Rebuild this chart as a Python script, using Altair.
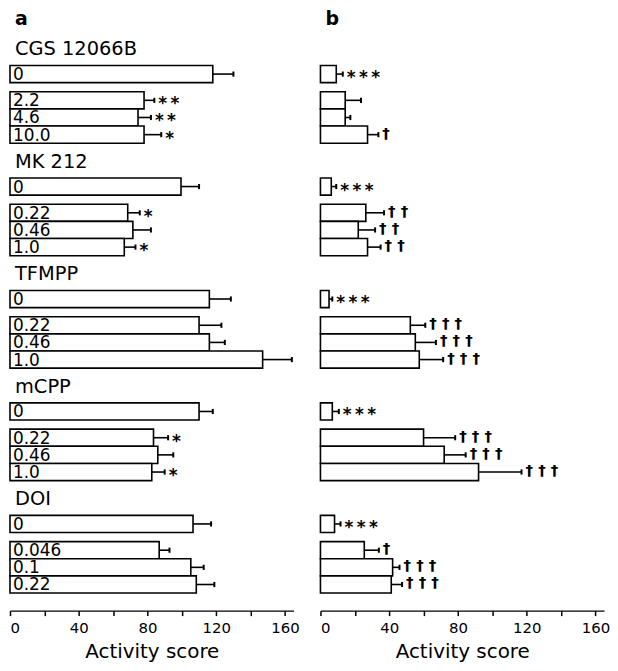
import altair as alt
import pandas as pd

# ---------------- data ----------------
groups = ["CGS 12066B", "MK 212", "TFMPP", "mCPP", "DOI"]
doses = [["0", "2.2", "4.6", "10.0"],
         ["0", "0.22", "0.46", "1.0"],
         ["0", "0.22", "0.46", "1.0"],
         ["0", "0.22", "0.46", "1.0"],
         ["0", "0.046", "0.1", "0.22"]]

a_mean = [[118, 78, 74.5, 78],
          [99.5, 68.5, 71.5, 66.5],
          [116, 110, 116, 147],
          [110, 83.5, 86, 82.5],
          [106.5, 86.8, 105.2, 108.4]]
a_sem = [[12, 6, 7.5, 10],
         [10.5, 7, 10.5, 6.5],
         [12.5, 13, 9, 17],
         [8, 8.5, 9, 7.5],
         [10.5, 6, 7.5, 10.5]]
a_sig = [["", "**", "**", "*"],
         ["", "*", "", "*"],
         ["", "", "", ""],
         ["", "*", "", "*"],
         ["", "", "", ""]]

b_mean = [[9.2, 14.4, 14.4, 27.4],
          [6.3, 26.4, 22, 27.4],
          [5, 52.3, 55.2, 57.5],
          [6.9, 60, 72, 92],
          [8.2, 25.5, 42, 41.2]]
b_sem = [[3.8, 9.2, 3, 6.3],
         [2.9, 10.6, 9.8, 7.6],
         [1.9, 8.7, 12, 13.9],
         [3.8, 18.4, 12.5, 25],
         [3.5, 8.5, 4, 6.3]]
b_sig = [["***", "", "", "†"],
         ["***", "††", "††", "††"],
         ["***", "†††", "†††", "†††"],
         ["***", "†††", "†††", "†††"],
         ["***", "†", "†††", "†††"]]

panel_labels = ["a", "b"]
x_ticks = [0, 20, 40, 60, 80, 100, 120, 140, 160]
x_title = "Activity score"

# ---------------- layout constants ----------------
N_ROWS = 35.03          # height of the plot in bar-row units
PLOT_H = 604
PLOT_W = 285
X_MAX = 165
FIRST = 3.757
PERIOD = 6.555
TITLE_OFF = -1.5
DOSE_OFF = 1.53
FONT = "DejaVu Sans"
THIN = "\u2009"


def slot(gi, k):
    base = FIRST + gi * PERIOD
    return base if k == 0 else base + DOSE_OFF + (k - 1)


def build(mean, sem, sig):
    rows = []
    for gi, g in enumerate(groups):
        for k in range(4):
            c = slot(gi, k)
            s = sig[gi][k]
            rows.append(dict(group=g, dose=doses[gi][k], mean=mean[gi][k],
                             hi=mean[gi][k] + sem[gi][k], zero=0,
                             c=c, top=c - 0.5, bot=c + 0.5,
                             ctop=c - 0.15, cbot=c + 0.15,
                             stars=THIN.join(s) if "*" in s else "",
                             daggers=" ".join(s) if "†" in s else ""))
    return pd.DataFrame(rows)


xscale = alt.Scale(domain=[0, X_MAX], nice=False, zero=True)
xaxis = alt.Axis(values=x_ticks, labelExpr="datum.value % 40 === 0 ? datum.label : ''",
                 title=x_title, grid=False, tickSize=5, labelFlush=True,
                 labelPadding=5, titlePadding=6)
yscale = alt.Scale(domain=[0, N_ROWS], reverse=True, nice=False, zero=False)


def X(f):
    return alt.X(f, type="quantitative", scale=xscale, axis=xaxis)


def Y(f):
    return alt.Y(f, type="quantitative", scale=yscale, axis=None)


def panel(df, label, with_text):
    base = alt.Chart(df)
    bars = base.mark_rect(fill="white", stroke="black", strokeWidth=1.6).encode(
        x=X("zero"), x2="mean", y=Y("top"), y2="bot")
    err = base.mark_rule(color="black", strokeWidth=1.6).encode(
        x=X("mean"), x2="hi", y=Y("c"))
    cap = base.mark_rule(color="black", strokeWidth=2).encode(
        x=X("hi"), y=Y("ctop"), y2="cbot")
    stars = base.mark_text(align="left", baseline="alphabetic", dx=4, dy=9,
                           font=FONT, fontSize=17, fontWeight="bold", color="black").encode(
        x=X("hi"), y=Y("c"), text="stars")
    daggers = base.mark_text(align="left", baseline="alphabetic", dx=4, dy=3,
                             font=FONT, fontSize=15, fontWeight="bold", color="black").encode(
        x=X("hi"), y=Y("c"), text="daggers")
    lab_df = pd.DataFrame({"t": [label], "zero": [0], "c": [0.55]})
    lab = alt.Chart(lab_df).mark_text(align="left", baseline="middle", dx=5,
                                      font=FONT, fontSize=19, fontWeight="bold",
                                      color="black").encode(x=X("zero"), y=Y("c"), text="t")
    layers = [bars, err, cap, stars, daggers, lab]
    if with_text:
        dl = base.mark_text(align="left", baseline="middle", dx=3, dy=1,
                            font=FONT, fontSize=17, color="black").encode(
            x=X("zero"), y=Y("c"), text="dose")
        t_df = pd.DataFrame({"g": groups, "zero": 0,
                             "c": [slot(i, 0) + TITLE_OFF for i in range(len(groups))]})
        tt = alt.Chart(t_df).mark_text(align="left", baseline="middle", dx=5, dy=1,
                                       font=FONT, fontSize=19.5, color="black").encode(
            x=X("zero"), y=Y("c"), text="g")
        layers += [dl, tt]
    return alt.layer(*layers).properties(width=PLOT_W, height=PLOT_H)


pa = panel(build(a_mean, a_sem, a_sig), panel_labels[0], True)
pb = panel(build(b_mean, b_sem, b_sig), panel_labels[1], False)

chart = alt.hconcat(pa, pb, spacing=20).properties(
    padding={"left": 1, "top": 0, "right": 0, "bottom": 0}
).configure_view(stroke=None).configure_axis(
    domainColor="black", domainWidth=1.5, tickColor="black", tickWidth=1.5,
    labelColor="black", titleColor="black", labelFont=FONT, titleFont=FONT,
    labelFontSize=15, titleFontSize=20, titleFontWeight="normal"
)

chart.save("out.html", embed_options={"renderer": "svg", "actions": False})
